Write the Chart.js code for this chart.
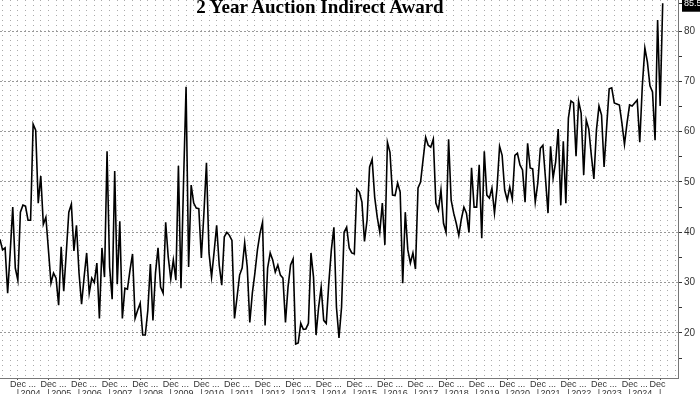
<!DOCTYPE html>
<html>
<head>
<meta charset="utf-8">
<script src="https://cdn.jsdelivr.net/npm/chart.js@4.4.1/dist/chart.umd.min.js"></script>
<style>
  html, body { margin: 0; padding: 0; background: #fff; }
  #wrap { position: relative; width: 700px; height: 394px; overflow: hidden; }
  #title { position: absolute; left: 0; top: -4px; width: 640px; text-align: center;
    font: bold 19px "Liberation Serif", "Times New Roman", serif; color: #000; }
</style>
</head>
<body>
<div id="wrap">
  <canvas id="lineChart"></canvas>
  <div id="title">2 Year Auction Indirect Award</div>
</div>
<script>
// monthly 2y auction indirect award (%), May 2003 onwards
var award2003 = [38.6, 36.5, 36.9, 27.9, 36, 45, 32.9, 30.5, 44, 45.4, 45.2, 42.4, 42.4, 61.5, 60.3, 45.8, 51.2, 41.6, 43, 36.5, 29.9, 31.9, 30.9, 25.5, 37.1, 28.3, 35.9, 44, 45.6, 36.3, 41.4, 31.9, 25.7, 31.1, 35.9, 27.9];
var award2006 = [30.9, 30, 33.9, 22.9, 36.9, 31.1, 56.1, 33.1, 26.7, 52.2, 29.7, 42.2, 22.9, 28.9, 28.7, 32.5, 35.7, 22.9, 24.5, 25.9, 19.6, 19.6, 24.5, 33.7, 22.5, 31.9, 36.9, 29.1, 27.9, 42, 35.1, 30.7, 34.5, 30.5];
var award2009 = [53.2, 28.9, 49.8, 68.9, 33.1, 49.4, 45.8, 44.8, 44.7, 34.9, 43.8, 53.8, 35.9, 31.1, 36.1, 41.4, 33.5, 29.5, 39.1, 40, 39.4, 38.4, 22.9, 27.1, 31.5, 32.9, 37.9, 33.1, 22.1, 27.9, 31.9, 36.5, 39.8, 42];
var award2012 = [21.5, 32.9, 35.9, 34.5, 32.1, 33.5, 31.5, 30.9, 22.1, 29.1, 33.5, 34.7, 17.8, 18, 21.9, 20.7, 20.8, 21.9, 35.9, 31.1, 19.6, 25.1, 29.1, 22.5, 21.9, 29.9, 36.5, 41, 25.1, 19, 25.1];
var award2014 = [40, 41, 36.9, 35.9, 35.7, 48.6, 48, 46, 38.2, 42.4, 53, 54.5, 47, 43, 40, 45.8, 37.5, 57.9, 55.9, 47.4, 47.3, 49.8, 48, 29.9, 44, 36.5, 33.9, 35.9, 32.7, 48.8, 50, 54.5, 58.9, 57.3, 56.9];
var award2017 = [58.5, 45.8, 44.4, 48.4, 41.8, 40, 58.5, 46.4, 43.8, 41.8, 39.4, 42.6, 45, 43.8, 40, 52.8, 45, 45, 53.4, 38.8, 56.1, 47.4, 46.8, 48.8, 43.8, 48.8, 57.1, 55.3, 48.4, 46.4, 49, 46.6, 55.3, 55.7];
var award2020 = [53.4, 52.4, 46, 57.7, 52.8, 52.6, 46, 49.8, 56.7, 57.3, 50.8, 43.8, 57.1, 50.8, 54, 60.5, 45.4, 58.1, 45.8, 62.7, 66.1, 65.7, 55.1, 66.1, 63.7, 51.4, 62.3, 60.5, 55.3, 50.6];
var award2022 = [60.3, 65.1, 63.3, 53, 60.9, 68.5, 68.7, 65.7, 65.5, 65.3, 61.7, 57.5, 61.7, 65.3, 65.1, 65.7, 66.3, 57.9, 69.1, 76.6, 73.8, 69.1, 67.9, 58.3, 82.2, 65.1, 85.5];

var yearTicks = [2004, 2005, 2006, 2007, 2008, 2009, 2010, 2011, 2012, 2013, 2014, 2015, 2016, 2017, 2018, 2019, 2020, 2021, 2022, 2023, 2024];
var yTickValues = [15, 20, 25, 30, 35, 40, 45, 50, 55, 60, 65, 70, 75, 80];

var START_YEAR = 2003, START_MONTH = 4, MONTH_COUNT = 267;
var monthNames = ['Jan', 'Feb', 'Mar', 'Apr', 'May', 'Jun', 'Jul', 'Aug', 'Sep', 'Oct', 'Nov', 'Dec'];

var award = [].concat(award2003, award2006, award2009, award2012, award2014, award2017, award2020, award2022);
var lastValue = award[award.length - 1];
var lastYear = yearTicks[yearTicks.length - 1];

function monthOf(i) { return (START_MONTH + i) % 12; }
function yearOf(i) { return START_YEAR + Math.floor((START_MONTH + i) / 12); }

var months = [];
for (var i = 0; i < MONTH_COUNT; i++) months.push(monthNames[monthOf(i)] + ' ' + yearOf(i));

var FONT = '"Liberation Sans", Arial, sans-serif';
var ctx = document.getElementById('lineChart').getContext('2d');

var myChart = new Chart(ctx, {
    type: 'line',
    data: {
        labels: months,
        datasets: [{
            label: '2 Year Auction Indirect Award',
            data: award,
            borderColor: '#000',
            borderWidth: 1.6,
            pointRadius: 0,
            tension: 0,
            fill: false
        }]
    },
    options: {
        responsive: true,
        maintainAspectRatio: false,
        animation: false,
        layout: { padding: 0 },
        plugins: { legend: { display: false }, tooltip: { enabled: false } },
        scales: {
            x: {
                afterFit: function (s) { s.height = 16; s.paddingLeft = 0; s.paddingRight = 0; },
                ticks: {
                    autoSkip: false, maxRotation: 0, minRotation: 0, padding: 0,
                    color: '#333',
                    font: { family: FONT, size: 9, lineHeight: 1 },
                    callback: function (value, index) {
                        var m = monthOf(index), y = yearOf(index);
                        if (m === 11 && y >= yearTicks[0] - 1 && y <= lastYear) return ['', '|'];
                        if (m === 1 && yearTicks.indexOf(y) >= 0) return ['Dec ...', ''];
                        if (m === 10 && y === lastYear) return ['Dec', ''];
                        if (m === 4 && yearTicks.indexOf(y) >= 0) return ['', String(y)];
                        return '';
                    }
                },
                grid: {
                    color: function (c) { return monthOf(c.index) % 3 === 2 ? '#aaa' : 'transparent'; },
                    tickColor: function (c) { return monthOf(c.index) === 11 ? '#555' : 'transparent'; },
                    tickLength: 2,
                    tickBorderDash: []
                },
                border: { color: '#777', dash: [1, 4] }
            },
            y: {
                position: 'right',
                min: 11.05,
                max: 86.16,
                afterBuildTicks: function (s) {
                    s.ticks = yTickValues.map(function (v) { return { value: v }; }).concat([{ value: lastValue }]);
                },
                afterFit: function (s) { s.width = 22; s.paddingTop = 0; s.paddingBottom = 0; },
                ticks: {
                    autoSkip: false,
                    padding: 2,
                    font: function (c) { return { family: FONT, size: c.tick && c.tick.value === lastValue ? 9 : 10 }; },
                    color: function (c) { return c.tick && c.tick.value === lastValue ? '#fff' : '#333'; },
                    showLabelBackdrop: function (c) { return !!(c.tick && c.tick.value === lastValue); },
                    backdropColor: '#000',
                    backdropPadding: { x: 2, y: 3 },
                    callback: function (v) {
                        if (v === lastValue) return v.toFixed(1);
                        return v % 10 === 0 ? String(v) : '';
                    }
                },
                grid: {
                    color: function (c) { return c.tick && c.tick.value % 10 === 0 ? '#999' : 'transparent'; },
                    tickColor: '#333',
                    tickLength: 4,
                    tickBorderDash: []
                },
                border: { color: '#777', dash: [2, 2] }
            }
        }
    }
});
</script>
</body>
</html>
